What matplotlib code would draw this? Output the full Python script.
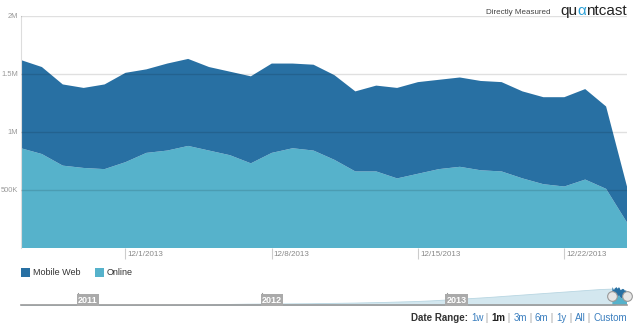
import matplotlib
matplotlib.use("Agg")
import matplotlib.pyplot as plt
import matplotlib.transforms as mtransforms
from matplotlib.patches import Rectangle
import pandas as pd

plt.rcParams['font.family'] = ['Liberation Sans', 'DejaVu Sans']

# daily uniques in millions, 11/26/2013 - 12/25/2013
days = pd.date_range('2013-11-26', '2013-12-25', freq='D')
online = [0.86, 0.81, 0.71, 0.69, 0.68, 0.74, 0.82, 0.84, 0.88, 0.84,
          0.80, 0.73, 0.82, 0.86, 0.84, 0.76, 0.66, 0.66, 0.60, 0.64,
          0.68, 0.70, 0.67, 0.66, 0.60, 0.55, 0.53, 0.59, 0.51, 0.22]
mobile_web = [0.76, 0.75, 0.70, 0.69, 0.73, 0.77, 0.72, 0.75, 0.75, 0.72,
              0.72, 0.75, 0.77, 0.73, 0.74, 0.73, 0.69, 0.74, 0.78, 0.79,
              0.77, 0.77, 0.77, 0.77, 0.75, 0.75, 0.77, 0.78, 0.71, 0.31]

y_ticks = [0.5, 1.0, 1.5, 2.0]
y_labels = ['500K', '1M', '1.5M', '2M']
x_ticks = pd.to_datetime(['2013-12-01', '2013-12-08', '2013-12-15', '2013-12-22'])
x_labels = ['12/1/2013', '12/8/2013', '12/15/2013', '12/22/2013']

# long-range history for the navigator strip (monthly, millions)
nav_months = pd.date_range('2010-09-01', '2013-12-01', freq='MS')
nav_values = [0.0, 0.0, 0.0, 0.0,
              0.0, 0.0, 0.0, 0.0, 0.01, 0.01, 0.02, 0.03, 0.04, 0.06, 0.10, 0.12,
              0.13, 0.14, 0.15, 0.16, 0.18, 0.20, 0.22, 0.25, 0.28, 0.32, 0.36, 0.42,
              0.50, 0.58, 0.66, 0.75, 0.85, 0.95, 1.05, 1.15, 1.25, 1.35, 1.45, 1.50]
nav_years = [2011, 2012, 2013]

DARK = '#2870a3'
LIGHT = '#56b2cb'
LINK = '#3a7ebf'

W, H = 640, 327


def fx(x):
    return x / W


def fy(y):
    return 1 - y / H


def draw_run(fig, x, y, pieces, align='left', **kw):
    # lay out differently styled strings next to each other
    r = fig.canvas.get_renderer()
    texts = [fig.text(0, fy(y), s, color=c, fontweight=wt, va='baseline', **kw)
             for s, c, wt in pieces]
    widths = [t.get_window_extent(r).width for t in texts]
    cur = x - sum(widths) if align == 'right' else x
    for t, w in zip(texts, widths):
        t.set_x(cur / W)
        cur += w


fig = plt.figure(figsize=(6.4, 3.27), dpi=100)

ax = fig.add_axes([fx(21), fy(248), fx(627) - fx(21), fy(16) - fy(248)])
ax.stackplot(days, online, mobile_web, colors=[LIGHT, DARK], linewidth=0)
for v in y_ticks:
    ax.axhline(v, color='black', alpha=0.12, lw=1, zorder=3)
ax.set_xlim(days[0], days[-1])
ax.set_ylim(0, 2.0)
for s in ['top', 'right', 'bottom']:
    ax.spines[s].set_visible(False)
ax.spines['left'].set_color('#dddddd')
ax.spines['left'].set_linewidth(0.8)
ax.set_yticks(y_ticks)
ax.set_yticklabels(y_labels)
ax.tick_params(axis='y', length=0, pad=2, labelsize=5.4, labelcolor='#999999')
ax.set_xticks(x_ticks)
ax.set_xticklabels(x_labels, ha='left')
ax.tick_params(axis='x', length=8, width=0.8, color='#cccccc', pad=-6,
               labelsize=5.8, labelcolor='#888888')
shift = mtransforms.ScaledTranslation(2 / 100, 0, fig.dpi_scale_trans)
for lbl in ax.get_xticklabels():
    lbl.set_transform(lbl.get_transform() + shift)

# legend
for x0, name, col in [(21, 'Mobile Web', DARK), (95, 'Online', LIGHT)]:
    fig.add_artist(Rectangle((fx(x0), fy(277)), 9 / W, 9 / H,
                             transform=fig.transFigure, color=col, lw=0))
    fig.text(fx(x0 + 12), fy(272.5), name, fontsize=6.5, color='#333333', va='center')

# navigator
nav = fig.add_axes([fx(21), fy(305), fx(627) - fx(21), fy(283) - fy(305)])
nav.fill_between(nav_months, nav_values, color='#d3e7ef', edgecolor='#b8d6e2', lw=0.6)
nav.stackplot(days, online, mobile_web, colors=[LIGHT, DARK], linewidth=0)
nav.set_xlim(pd.Timestamp('2010-09-10'), days[-1])
nav.set_ylim(0, 2.0)
nav.axis('off')
nav.axhline(0, color='#999999', lw=1.2, clip_on=False)
for yr in nav_years:
    d = pd.Timestamp(year=yr, month=1, day=1)
    nav.axvline(d, ymax=0.55, color='#999999', lw=0.8)
    nav.text(d, 0.02, str(yr), ha='left', va='bottom', color='white', fontsize=6.5,
             fontweight='bold',
             bbox=dict(boxstyle='square,pad=0.15', fc='#aaaaaa', ec='none'))
nav.plot([days[0], days[-1]], [0.8, 0.8], 'o', ms=7, mfc='#e6e6e6', mec='#999999',
         mew=0.8, clip_on=False, zorder=5)

# header
draw_run(fig, 627, 15, [('qu', '#222222', 'normal'), ('\u03b1', '#2a9fd6', 'normal'),
                        ('ntcast', '#222222', 'normal')], align='right', fontsize=11)
draw_run(fig, 551, 14, [('Directly Measured', '#444444', 'normal')], align='right',
         fontsize=5.8)

# date range selector
sep = (' | ', '#999999', 'normal')
draw_run(fig, 627, 321, [('Date Range: ', '#333333', 'bold'), ('1w', LINK, 'normal'), sep,
                         ('1m', '#222222', 'bold'), sep, ('3m', LINK, 'normal'), sep,
                         ('6m', LINK, 'normal'), sep, ('1y', LINK, 'normal'), sep,
                         ('All', LINK, 'normal'), sep, ('Custom', LINK, 'normal')],
         align='right', fontsize=7)

fig.savefig('out.png', dpi=100)
